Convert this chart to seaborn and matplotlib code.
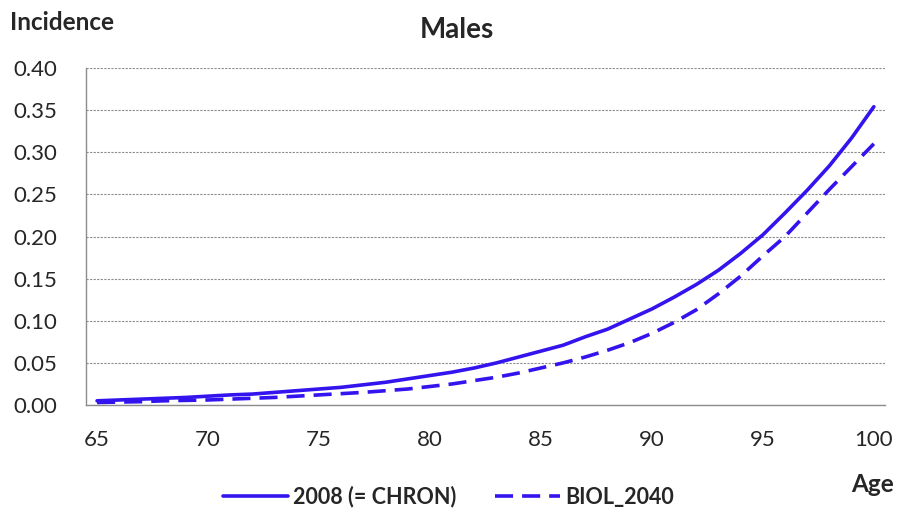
import numpy as np
import pandas as pd
import matplotlib
matplotlib.use("Agg")
import matplotlib.pyplot as plt
import seaborn as sns
from matplotlib.ticker import FixedLocator

sns.set_style("white")
plt.rcParams['font.family'] = ['Lato', 'DejaVu Sans']

# data
ages = list(range(65, 101))
chron_2008 = [0.005, 0.006, 0.007, 0.008, 0.009, 0.0105, 0.012, 0.013, 0.015, 0.017,
              0.019, 0.021, 0.024, 0.027, 0.031, 0.035, 0.039, 0.044, 0.050, 0.057,
              0.064, 0.071, 0.081, 0.090, 0.102, 0.114, 0.128, 0.143, 0.160, 0.180,
              0.202, 0.228, 0.255, 0.284, 0.317, 0.354]
biol_2040 = [0.003, 0.0035, 0.004, 0.005, 0.0055, 0.006, 0.007, 0.008, 0.009, 0.0105,
             0.012, 0.0135, 0.015, 0.017, 0.019, 0.022, 0.025, 0.029, 0.033, 0.038,
             0.044, 0.050, 0.057, 0.065, 0.074, 0.085, 0.098, 0.113, 0.132, 0.153,
             0.177, 0.200, 0.228, 0.256, 0.283, 0.310]
series_names = ["2008 (= CHRON)", "BIOL_2040"]
y_ticks = [0.0, 0.05, 0.10, 0.15, 0.20, 0.25, 0.30, 0.35, 0.40]
x_labels = [65, 70, 75, 80, 85, 90, 95, 100]

df = pd.DataFrame({
    "age": ages * 2,
    "incidence": chron_2008 + biol_2040,
    "series": [series_names[0]] * len(ages) + [series_names[1]] * len(ages),
})

blue = "#3314ee"
grey = "#8c8c8c"
dash = (5, 2.5)

fig = plt.figure(figsize=(9.03, 5.17), dpi=100)
ax = fig.add_axes([0.0952, 0.2166, 0.8848, 0.6519])

sns.lineplot(data=df, x="age", y="incidence", style="series",
             dashes={series_names[0]: "", series_names[1]: dash},
             color=blue, linewidth=2.6, ax=ax, legend=False)

ax.set_xlim(64.5, 100.5)
ax.set_ylim(0, 0.40)
ax.set_yticks(y_ticks)
ax.set_yticklabels(["%.2f" % v for v in y_ticks])
ax.xaxis.set_major_locator(FixedLocator(x_labels))
ax.xaxis.set_minor_locator(FixedLocator(np.arange(64.5, 101, 1)))
ax.tick_params(axis="x", which="major", length=0, pad=18, labelsize=16)
ax.tick_params(axis="x", which="minor", length=8, color=grey, width=0.9, direction="out")
ax.tick_params(axis="y", length=9, color=grey, width=0.8, labelsize=16, pad=12, direction="out")
ax.yaxis.grid(True, color=grey, linestyle=(0, (2, 1.2)), linewidth=0.8)
ax.set_axisbelow(True)

for s in ["top", "right"]:
    ax.spines[s].set_visible(False)
for s in ["left", "bottom"]:
    ax.spines[s].set_color(grey)
    ax.spines[s].set_linewidth(1.0)

ax.set_xlabel("")
ax.set_ylabel("")

fig.text(0.011, 1 - 22 / 517, "Incidence", fontsize=17.5, fontweight="bold", ha="left", va="center")
fig.text(0.506, 1 - 30 / 517, "Males", fontsize=20, fontweight="bold", ha="center", va="center")
fig.text(0.966, 1 - 484 / 517, "Age", fontsize=17.5, fontweight="bold", ha="center", va="center")

handles = [plt.Line2D([], [], color=blue, lw=2.6),
           plt.Line2D([], [], color=blue, lw=2.6, dashes=dash)]
fig.legend(handles, series_names, loc="center", bbox_to_anchor=(0.497, 1 - 497 / 517),
           ncol=2, frameon=False, handlelength=3.0, columnspacing=1.8, handletextpad=0.25,
           prop={"size": 15.5, "weight": "bold"})

fig.savefig("out.png", dpi=100)
